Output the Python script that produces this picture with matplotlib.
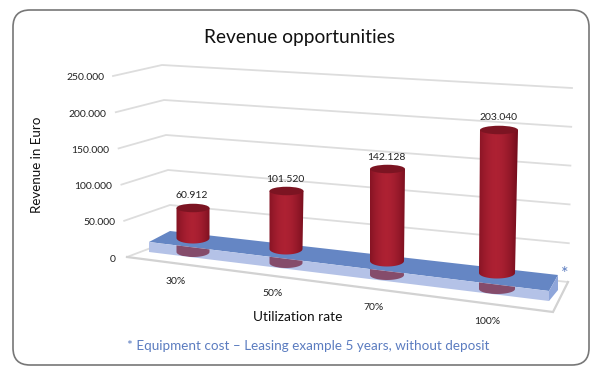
"""
Revenue opportunities - fake 3D cylinder chart drawn with matplotlib
"""
import numpy as np
import matplotlib
matplotlib.use('Agg')
import matplotlib.pyplot as plt
from matplotlib.patches import Polygon, Ellipse, FancyBboxPatch, PathPatch
from matplotlib.path import Path

plt.rcParams['font.family'] = ['Lato', 'DejaVu Sans']

# data
categories = ['30%', '50%', '70%', '100%']
revenue = [60912, 101520, 142128, 203040]
y_ticks = [0, 50000, 100000, 150000, 200000, 250000]

# layout in pixels: wall corners at value 0 and at the top of the axis
front_left = ((127, 257), (113, 76))
back_left = ((172, 240), (162, 65))
right_end = ((568, 282), (572, 88))
y_max = y_ticks[-1]

bar_x = [193, 286, 387, 497]
bar_base = [238, 249, 261, 273]
bar_scale = [30 / 60912, 58 / 101520, 92 / 142128, 143 / 203040]
bar_w_bottom = [33, 33, 34, 36]
bar_w_top = [33, 34, 35, 38]
mirror_bottom = [257, 268, 280, 294]
cat_label_xy = [(176, 282), (273, 294), (374, 307), (487, 322)]

RED_DARK = np.array([0.45, 0.05, 0.11])
RED_MID = np.array([0.68, 0.13, 0.20])


def wall_point(corner, value):
    t = value / y_max
    return (corner[0][0] + (corner[1][0] - corner[0][0]) * t,
            corner[0][1] + (corner[1][1] - corner[0][1]) * t)


fig = plt.figure(figsize=(6, 3.77), dpi=100)
ax = fig.add_axes([0, 0, 1, 1])

# card
ax.add_patch(FancyBboxPatch((13, 10), 576, 355, boxstyle='round,pad=0,rounding_size=17',
                            fc='white', ec='#777777', lw=1.2, mutation_aspect=1, zorder=0))

# gridlines
for v in y_ticks:
    a, b, c = wall_point(front_left, v), wall_point(back_left, v), wall_point(right_end, v)
    ax.plot([a[0], b[0], c[0]], [a[1], b[1], c[1]], color='#dddddd', lw=1.3, zorder=1,
            solid_joinstyle='miter')
    label = f'{v:,}'.replace(',', '.')
    ax.text(a[0] - 9 if v else 116, a[1] + 2, label, ha='right', va='center',
            fontsize=7.5, color='#222222')

# floor edge
floor_corner = (553, 312)
ax.plot([front_left[0][0], floor_corner[0], right_end[0][0]],
        [front_left[0][1], floor_corner[1], right_end[0][1]],
        color='#d2d2d2', lw=1.6, zorder=1, solid_joinstyle='miter')

# blue plate
top_pts = [(170, 231), (558, 275), (549, 291), (149, 242)]
face_pts = [(149, 242), (549, 291), (549, 301), (149, 252)]
side_pts = [(558, 275), (558, 290), (549, 301), (549, 291)]
ax.add_patch(Polygon(top_pts, closed=True, fc='#6586c4', ec='none', zorder=2))
face = Polygon(face_pts, closed=True, fc='#b4c2e7', ec='none', zorder=2)
ax.add_patch(face)
ax.add_patch(Polygon(side_pts, closed=True, fc='#8fa6da', ec='none', zorder=2))
ax.text(565, 274, '*', fontsize=13, color='#5b7cc0', ha='center', va='center', zorder=3)

# cylinders
grad = np.linspace(-1, 1, 120)
weight = np.clip(1 - np.abs(grad + 0.05) ** 1.8, 0, 1)[None, :, None]
grad_img = RED_DARK + (RED_MID - RED_DARK) * weight

for i, val in enumerate(revenue):
    x, base = bar_x[i], bar_base[i]
    top = base - val * bar_scale[i]
    wb, wt = bar_w_bottom[i], bar_w_top[i]
    lean = (wt - wb) / 2 + (1 if i == 3 else 0)

    # reflection on the plate front, flat bottom with rounded corners
    t = np.linspace(0, np.pi, 30)
    m_arc = np.column_stack([x + wb / 2 * np.cos(t), mirror_bottom[i] - 5 + 5 * np.sin(t)])
    m_verts = [(x + wb / 2, mirror_bottom[i] - 30)] + m_arc.tolist() + [(x - wb / 2, mirror_bottom[i] - 30)]
    mirror = Polygon(m_verts, closed=True, fc='#7a2f4c', ec='none', alpha=0.8, zorder=3)
    ax.add_patch(mirror)
    mirror.set_clip_path(face)

    # body, shaded from side to side
    bottom_arc = np.column_stack([x + wb / 2 * np.cos(t), base + 5.5 * np.sin(t)])
    verts = [(x - wt / 2 + lean, top)] + [(x + wt / 2 + lean, top)] + bottom_arc.tolist() + [(x - wt / 2 + lean, top)]
    codes = [Path.MOVETO] + [Path.LINETO] * (len(verts) - 2) + [Path.CLOSEPOLY]
    body = PathPatch(Path(verts, codes), fc='none', ec='none', zorder=4)
    ax.add_patch(body)
    im = ax.imshow(grad_img, extent=[x - wt / 2 - 3, x + wt / 2 + 3, base + 7, top - 1],
                   aspect='auto', zorder=4, interpolation='bilinear')
    im.set_clip_path(body)

    # cap
    ax.add_patch(Ellipse((x + lean, top), wt, 8.5, fc='#7c1422', ec='none', zorder=5))

    ax.text(x - 1 + lean, top - 12, f'{val:,}'.replace(',', '.'), ha='center', va='center',
            fontsize=7.5, color='#222222', zorder=6)
    ax.text(cat_label_xy[i][0], cat_label_xy[i][1], categories[i], ha='center', va='center',
            fontsize=7.5, color='#222222', zorder=6)

# texts
ax.text(299, 38, 'Revenue opportunities', ha='center', va='center', fontsize=13.8, color='#111111')
ax.text(37, 164.5, 'Revenue in Euro', rotation=90, ha='center', va='center', fontsize=9.6, color='#111111')
ax.text(298, 317, 'Utilization rate', ha='center', va='center', fontsize=9.9, color='#111111')
ax.text(308.5, 346, '* Equipment cost – Leasing example 5 years, without deposit',
        ha='center', va='center', fontsize=9.75, color='#5b7cc0')

ax.set_xlim(0, 600)
ax.set_ylim(377, 0)
ax.axis('off')

plt.savefig('out.png', dpi=100)
plt.close()
